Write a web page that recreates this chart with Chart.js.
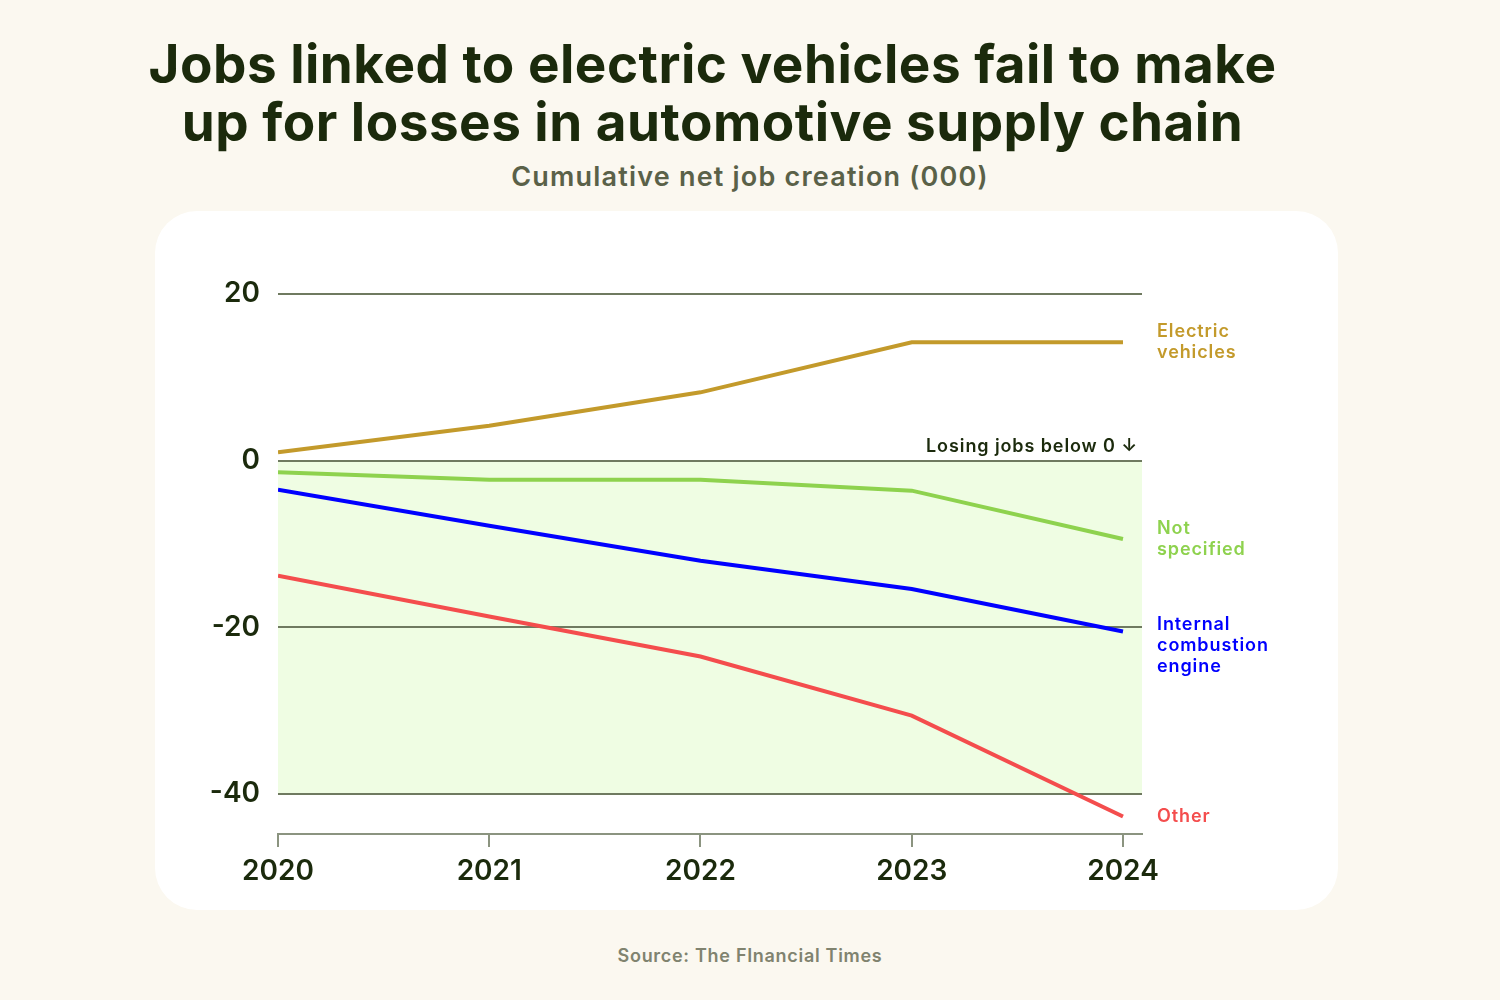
<!DOCTYPE html>
<html>
<head>
<meta charset="utf-8">
<script src="https://cdn.jsdelivr.net/npm/chart.js@4.4.1/dist/chart.umd.min.js"></script>
<style>
  html,body{margin:0;padding:0;background:#fbf8f0;}
  body{width:1500px;height:1000px;position:relative;overflow:hidden;font-family:Inter,"Noto Sans",sans-serif;}
  #card{position:absolute;left:155px;top:211px;width:1183px;height:699px;background:#fff;border-radius:42px;}
  #title{position:absolute;left:0;width:1425px;top:35px;text-align:center;font-weight:700;font-size:53px;line-height:58px;color:#1b2a0c;letter-spacing:0.5px;}
  #subtitle{position:absolute;left:0;width:1500px;top:160px;text-align:center;font-weight:600;font-size:27px;color:#5a6148;letter-spacing:1.2px;}
  #source{position:absolute;left:0;width:1500px;top:945px;text-align:center;font-weight:600;font-size:18px;color:#80836f;letter-spacing:0.7px;}
  #wrap{position:absolute;left:0;top:0;width:1500px;height:1000px;}
</style>
</head>
<body>
<div id="card"></div>
<div id="title">Jobs linked to electric vehicles fail to make<br>up for losses in automotive supply chain</div>
<div id="subtitle">Cumulative net job creation (000)</div>
<div id="source">Source: The FInancial Times</div>
<div id="wrap"><canvas id="c" width="1500" height="1000"></canvas></div>
<script>
const years = [2020, 2021, 2022, 2023, 2024];
const seriesNames = ["Electric\nvehicles", "Not\nspecified", "Internal\ncombustion\nengine", "Other"];
const evValues = [1.0, 4.2, 8.2, 14.2, 14.2];
const notSpecifiedValues = [-1.4, -2.3, -2.3, -3.6, -9.4];
const iceValues = [-3.5, -7.8, -12.0, -15.4, -20.5];
const otherValues = [-13.8, -18.7, -23.5, -30.6, -42.7];
const seriesColors = ["#c39a2b", "#8ed24e", "#0000ff", "#f44d4d"];
const yTicks = [-40, -20, 0, 20];
const bandRange = [0, -40];
const annotationText = "Losing jobs below 0 \u2193";

const allValues = [evValues, notSpecifiedValues, iceValues, otherValues];
const datasets = allValues.map((vals, i) => ({
  label: seriesNames[i].replace(/\n/g, " "),
  data: vals.map((v, j) => ({x: years[j], y: v})),
  borderColor: seriesColors[i],
  borderWidth: 4,
  pointRadius: 0,
  tension: 0,
  fill: false
}));

const bandPlugin = {
  id: 'band',
  beforeDraw(chart) {
    const {ctx, chartArea, scales} = chart;
    const y1 = scales.y.getPixelForValue(bandRange[0]);
    const y2 = scales.y.getPixelForValue(bandRange[1]);
    ctx.save();
    ctx.fillStyle = '#effde3';
    ctx.fillRect(chartArea.left, y1, chartArea.right - chartArea.left, y2 - y1);
    ctx.restore();
  },
  afterDraw(chart) {
    const {ctx, chartArea, scales} = chart;
    ctx.save();
    // annotation
    ctx.font = '600 18px Inter, "Noto Sans", sans-serif';
    ctx.letterSpacing = '0.9px';
    ctx.fillStyle = '#1b2a0c';
    ctx.textAlign = 'right';
    ctx.textBaseline = 'alphabetic';
    ctx.fillText(annotationText, chartArea.right - 4, scales.y.getPixelForValue(0) - 9);
    // end labels
    ctx.letterSpacing = '0.9px';
    ctx.textAlign = 'left';
    ctx.textBaseline = 'middle';
    const lh = 21;
    const offsets = [0, 0, 14, 0];
    allValues.forEach((vals, i) => {
      const lines = seriesNames[i].split('\n');
      const yc = scales.y.getPixelForValue(vals[vals.length - 1]) + offsets[i];
      const x = chartArea.right + 15;
      ctx.fillStyle = seriesColors[i];
      lines.forEach((ln, k) => {
        ctx.fillText(ln, x, yc + (k - (lines.length - 1) / 2) * lh);
      });
    });
    ctx.restore();
  }
};

new Chart(document.getElementById('c'), {
  type: 'line',
  data: {datasets},
  plugins: [bandPlugin],
  options: {
    responsive: false,
    animation: false,
    events: [],
    layout: {padding: {top: 294, right: 358, left: 0, bottom: 0}},
    plugins: {legend: {display: false}, tooltip: {enabled: false}},
    scales: {
      x: {
        type: 'linear',
        min: 2020,
        max: 2024.09,
        afterBuildTicks(s) { s.ticks = years.map(v => ({value: v})); },
        afterFit(s) { s.height = 166; },
        ticks: {
          callback: v => String(v),
          color: '#1b2a0c',
          font: {family: 'Inter', size: 28, weight: '600'},
          padding: 8,
          maxRotation: 0,
          autoSkip: false
        },
        grid: {drawOnChartArea: false, drawTicks: true, tickLength: 13, color: '#8b9480', lineWidth: 2},
        border: {display: true, color: '#8b9480', width: 2}
      },
      y: {
        min: -44.8,
        max: 20,
        afterBuildTicks(s) { s.ticks = yTicks.map(v => ({value: v})); },
        afterFit(s) { s.width = 278; },
        ticks: {
          color: '#1b2a0c',
          font: {family: 'Inter', size: 28, weight: '600'},
          padding: 18,
          callback: v => String(v)
        },
        grid: {drawTicks: false, color: '#6f7a60', lineWidth: 2},
        border: {display: false}
      }
    }
  }
});
</script>
</body>
</html>
